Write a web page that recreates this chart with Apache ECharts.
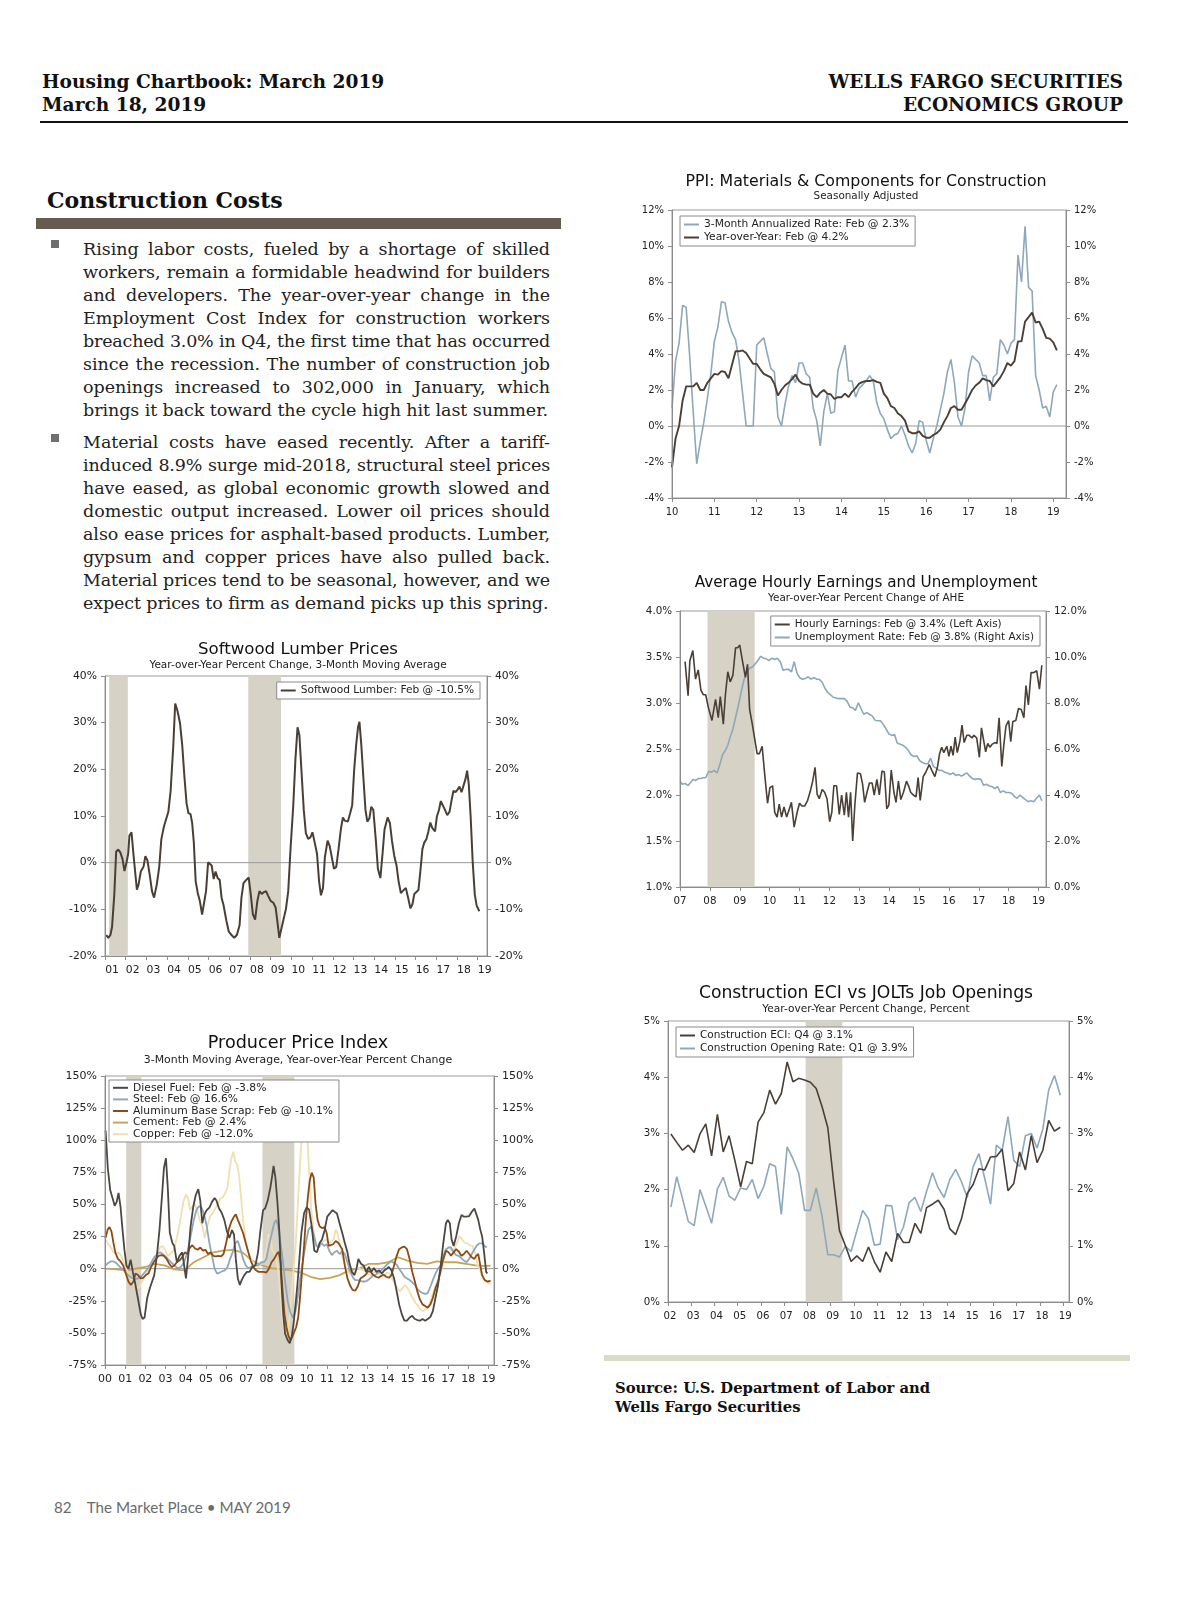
<!DOCTYPE html>
<html><head><meta charset="utf-8">
<script src="https://cdn.jsdelivr.net/npm/echarts/dist/echarts.min.js"></script>
<style>
body{margin:0;background:#fff;}
#page{position:relative;width:1200px;height:1606px;overflow:hidden;background:#fff;}
.abs{position:absolute;}
.hdr{font-family:'DejaVu Serif',serif;font-weight:bold;font-size:18.6px;line-height:23px;color:#111;white-space:nowrap;}
.para{position:absolute;left:83px;width:467px;font-family:'DejaVu Serif',serif;font-size:17.5px;line-height:23px;color:#222;}
.para div{text-align:justify;text-align-last:justify;}
.para div.last{text-align-last:left;}
.bul{position:absolute;left:51px;width:8px;height:8px;background:#6f6f6f;}
.chart{position:absolute;}
</style></head>
<body><div id="page">
<div class="abs hdr" style="left:42px;top:70px;">Housing Chartbook: March 2019<br>March 18, 2019</div>
<div class="abs hdr" style="right:77px;top:70px;text-align:right;">WELLS FARGO SECURITIES<br>ECONOMICS GROUP</div>
<div class="abs" style="left:40px;top:121px;width:1088px;height:2px;background:#111;"></div>
<div class="abs hdr" style="left:47px;top:187px;font-size:22px;line-height:26px;">Construction Costs</div>
<div class="abs" style="left:36px;top:218px;width:525px;height:11px;background:#655b4f;"></div>
<div class="bul" style="top:240px;"></div>
<div class="para" style="top:238px;">
<div>Rising labor costs, fueled by a shortage of skilled</div>
<div>workers, remain a formidable headwind for builders</div>
<div>and developers. The year-over-year change in the</div>
<div>Employment Cost Index for construction workers</div>
<div>breached 3.0% in Q4, the first time that has occurred</div>
<div>since the recession. The number of construction job</div>
<div>openings increased to 302,000 in January, which</div>
<div class="last">brings it back toward the cycle high hit last summer.</div>
</div>
<div class="bul" style="top:434px;"></div>
<div class="para" style="top:431px;">
<div>Material costs have eased recently. After a tariff-</div>
<div>induced 8.9% surge mid-2018, structural steel prices</div>
<div>have eased, as global economic growth slowed and</div>
<div>domestic output increased. Lower oil prices should</div>
<div>also ease prices for asphalt-based products. Lumber,</div>
<div>gypsum and copper prices have also pulled back.</div>
<div>Material prices tend to be seasonal, however, and we</div>
<div class="last">expect prices to firm as demand picks up this spring.</div>
</div>
<div id="cPPIM" class="chart" style="left:600px;top:165px;width:560px;height:360px;"></div>
<div id="cAHE" class="chart" style="left:600px;top:565px;width:560px;height:350px;"></div>
<div id="cECI" class="chart" style="left:600px;top:975px;width:560px;height:360px;"></div>
<div id="cLUM" class="chart" style="left:40px;top:630px;width:500px;height:360px;"></div>
<div id="cPPI" class="chart" style="left:40px;top:1025px;width:510px;height:370px;"></div>
<div class="abs" style="left:604px;top:1355px;width:526px;height:6px;background:#d9dcc6;"></div>
<div class="abs hdr" style="left:615px;top:1378px;font-size:14.8px;line-height:19px;">Source: U.S. Department of Labor and<br>Wells Fargo Securities</div>
<div class="abs" style="left:54px;top:1498px;font-family:Lato,'Open Sans',sans-serif;font-size:15.2px;color:#6b6b6b;white-space:nowrap;">82&nbsp;&nbsp;&nbsp;&nbsp;The Market Place &bull; MAY 2019</div>
</div>
<script>
// ---------------- DATA ----------------
const recessionsStd = [[2001.17, 2001.92], [2007.92, 2009.5]];
const recessionsLumber = [[2001.2, 2002.1], [2007.92, 2009.5]];
const recessionsPPI = [[2001.05, 2001.8], [2007.8, 2009.38]];

// PPI: Materials & Components, monthly from Jan 2010
const ppiMatStart = 2010;
const ppiMat3m = [
 1.0, 3.6, 4.6, 6.7, 6.6, 3.9, 0.8, -2.1, -0.9, 0.2, 1.5, 2.9,
 4.7, 5.5, 6.9, 6.85, 5.8, 5.2, 4.8, 3.6, 1.8, 0.0, 0.0, 0.0,
 4.5, 4.7, 4.9, 4.0, 3.2, 3.0, 0.5, 0.0, 1.2, 2.2, 2.8, 2.4,
 3.5, 3.5, 2.9, 2.7, 1.0, 0.3, -1.1, 0.8, 1.8, 0.7, 0.8, 3.1,
 3.8, 4.5, 2.5, 2.5, 1.6, 2.1, 2.3, 2.5, 2.8, 2.5, 1.3, 0.7,
 0.4, -0.2, -0.7, -0.5, -0.4, 0.0, -0.5, -1.1, -1.5, -1.0, 0.3, 0.2,
 -0.8, -1.5, -0.7, 0.0, 0.9, 1.8, 3.0, 3.7, 2.4, 0.5, 0.0, 1.0,
 3.0, 3.9, 3.7, 3.5, 2.8, 2.8, 1.4, 2.7, 2.9, 4.8, 4.5, 4.0,
 4.6, 4.8, 9.5, 8.0, 11.1, 7.7, 7.5, 2.8, 2.0, 1.0, 1.1, 0.5,
 1.9, 2.3];
const ppiMatYoY = [
 -2.3, -0.7, 0.0, 1.4, 2.2, 2.2, 2.2, 2.4, 2.0, 2.0, 2.4, 2.65,
 2.9, 2.85, 3.05, 3.0, 2.65, 3.4, 4.15, 4.15, 4.2, 4.05, 3.75, 3.45,
 3.45, 3.15, 2.9, 2.8, 2.7, 2.35, 1.7, 2.0, 2.25, 2.4, 2.6, 2.85,
 2.5, 2.35, 2.3, 2.3, 1.8, 1.6, 1.85, 2.0, 1.8, 1.75, 1.5, 1.6,
 1.6, 1.8, 1.6, 1.9, 2.1, 2.35, 2.45, 2.5, 2.5, 2.55, 2.45, 2.4,
 1.8, 1.55, 1.1, 1.0, 0.7, 0.55, 0.3, -0.3, -0.4, -0.4, -0.3, -0.55,
 -0.65, -0.65, -0.5, -0.4, -0.2, 0.2, 0.55, 1.0, 1.1, 0.9, 0.9, 1.25,
 1.6, 2.0, 2.25, 2.4, 2.65, 2.55, 2.5, 2.2, 2.45, 2.7, 3.05, 3.5,
 3.35, 3.6, 4.7, 4.7, 5.8, 6.05, 6.3, 5.75, 5.8, 5.4, 4.9, 4.85,
 4.65, 4.2];

// Softwood lumber [year, %]
const lumberData = [[2001.06,-15.5],[2001.16,-16.1],[2001.26,-15.5],[2001.34,-13.8],[2001.45,-6.8],[2001.54,2.4],[2001.64,2.8],[2001.74,2.2],[2001.85,0.7],[2001.94,-1.8],[2002.04,0.1],[2002.12,1.9],[2002.18,5.8],[2002.28,6.5],[2002.38,1.5],[2002.54,-5.8],[2002.62,-4.7],[2002.73,-1.9],[2002.86,-0.9],[2002.95,1.4],[2003.05,0.5],[2003.16,-2.6],[2003.27,-6.1],[2003.37,-7.5],[2003.50,-4.7],[2003.62,-0.9],[2003.72,5.0],[2003.85,7.8],[2003.94,7.9],[2004.06,10.9],[2004.17,15.4],[2004.30,25.2],[2004.39,34.1],[2004.49,32.7],[2004.62,30.0],[2004.73,25.2],[2004.84,18.2],[2004.94,12.7],[2005.03,10.6],[2005.13,10.4],[2005.21,8.5],[2005.29,4.3],[2005.38,-4.0],[2005.48,-6.5],[2005.58,-8.2],[2005.69,-11.1],[2005.77,-11.0],[2005.88,-6.1],[2005.98,0.1],[2006.06,0.3],[2006.15,-0.6],[2006.25,-3.5],[2006.34,-1.9],[2006.44,-3.3],[2006.54,-3.7],[2006.63,-7.5],[2006.73,-9.2],[2006.86,-12.4],[2006.98,-14.8],[2007.11,-15.5],[2007.24,-16.1],[2007.37,-15.5],[2007.50,-13.4],[2007.59,-7.5],[2007.69,-4.4],[2007.82,-3.7],[2007.94,-3.2],[2008.04,-6.8],[2008.14,-11.0],[2008.25,-12.2],[2008.36,-8.2],[2008.46,-6.1],[2008.57,-6.7],[2008.68,-6.3],[2008.78,-6.1],[2008.87,-7.0],[2009.00,-8.2],[2009.13,-8.6],[2009.24,-9.6],[2009.32,-12.4],[2009.42,-16.1],[2009.51,-15.9],[2009.61,-12.4],[2009.74,-9.9],[2009.85,-6.1],[2009.96,2.9],[2010.09,12.0],[2010.20,22.4],[2010.30,29.0],[2010.39,27.3],[2010.49,19.6],[2010.60,11.3],[2010.70,6.4],[2010.81,5.1],[2010.92,5.4],[2011.02,6.5],[2011.13,4.3],[2011.24,1.9],[2011.34,-4.0],[2011.43,-7.0],[2011.53,-5.4],[2011.62,1.2],[2011.75,4.7],[2011.85,3.6],[2011.94,1.5],[2012.06,-1.3],[2012.17,-0.9],[2012.28,2.9],[2012.39,7.1],[2012.49,9.7],[2012.58,9.0],[2012.73,8.8],[2012.84,10.6],[2012.94,12.3],[2013.03,19.6],[2013.13,25.2],[2013.22,29.0],[2013.29,30.2],[2013.38,25.2],[2013.48,18.2],[2013.58,11.3],[2013.67,8.8],[2013.77,9.5],[2013.86,12.0],[2013.96,11.3],[2014.09,4.3],[2014.18,-1.3],[2014.30,-3.3],[2014.41,2.2],[2014.50,7.1],[2014.65,9.7],[2014.76,8.5],[2014.86,4.7],[2014.97,1.5],[2015.08,-0.6],[2015.18,-4.0],[2015.29,-6.5],[2015.40,-6.0],[2015.53,-5.4],[2015.64,-7.5],[2015.75,-9.8],[2015.85,-8.9],[2015.94,-6.7],[2016.04,-6.3],[2016.14,-5.8],[2016.23,-1.9],[2016.33,2.9],[2016.42,4.3],[2016.52,5.0],[2016.62,6.7],[2016.71,8.6],[2016.81,7.4],[2016.94,6.7],[2017.03,9.9],[2017.13,11.3],[2017.22,13.2],[2017.31,13.0],[2017.42,11.3],[2017.53,10.2],[2017.64,10.9],[2017.74,13.4],[2017.83,15.4],[2017.93,15.1],[2018.02,15.6],[2018.12,16.3],[2018.22,15.1],[2018.31,15.1],[2018.41,17.9],[2018.49,19.7],[2018.57,16.8],[2018.66,9.9],[2018.76,0.1],[2018.86,-6.8],[2018.95,-9.2],[2019.08,-10.4]];

// Average hourly earnings YoY [year, %]
const aheData = [[2007.17,3.45],[2007.27,3.08],[2007.33,3.46],[2007.43,3.57],[2007.52,3.26],[2007.61,3.36],[2007.70,3.14],[2007.78,3.09],[2007.86,3.09],[2007.95,2.95],[2008.07,2.81],[2008.19,3.04],[2008.28,2.84],[2008.35,3.07],[2008.45,2.77],[2008.52,3.09],[2008.60,3.34],[2008.68,3.23],[2008.77,3.30],[2008.86,3.60],[2008.93,3.60],[2009.00,3.63],[2009.10,3.44],[2009.19,3.28],[2009.26,3.42],[2009.33,2.93],[2009.42,2.77],[2009.49,2.63],[2009.58,2.45],[2009.66,2.45],[2009.75,2.53],[2009.83,2.24],[2009.93,1.91],[2010.01,2.08],[2010.10,2.10],[2010.17,1.81],[2010.25,1.76],[2010.32,1.90],[2010.40,1.76],[2010.48,1.87],[2010.57,1.76],[2010.64,1.83],[2010.73,1.92],[2010.82,1.65],[2010.92,1.81],[2011.00,1.91],[2011.08,1.88],[2011.17,1.88],[2011.27,1.94],[2011.36,2.04],[2011.44,2.15],[2011.52,2.30],[2011.59,2.01],[2011.66,1.96],[2011.76,2.06],[2011.84,2.03],[2011.92,1.96],[2012.01,1.71],[2012.08,1.81],[2012.15,2.10],[2012.24,2.10],[2012.33,1.79],[2012.41,2.00],[2012.50,1.78],[2012.57,2.03],[2012.64,1.76],[2012.71,2.03],[2012.78,1.50],[2012.85,1.88],[2012.94,2.24],[2013.04,2.23],[2013.11,2.12],[2013.18,1.92],[2013.26,2.03],[2013.34,2.13],[2013.43,2.13],[2013.50,2.00],[2013.59,2.17],[2013.67,2.00],[2013.76,2.26],[2013.84,2.25],[2013.92,1.85],[2013.99,1.89],[2014.07,2.27],[2014.16,2.03],[2014.23,1.92],[2014.31,2.15],[2014.39,1.95],[2014.48,2.03],[2014.58,2.15],[2014.65,2.10],[2014.72,2.03],[2014.81,2.00],[2014.90,1.98],[2014.97,2.19],[2015.04,1.94],[2015.14,2.20],[2015.23,2.25],[2015.34,2.33],[2015.44,2.26],[2015.53,2.20],[2015.62,2.31],[2015.69,2.45],[2015.76,2.52],[2015.83,2.46],[2015.93,2.53],[2016.00,2.42],[2016.07,2.53],[2016.14,2.43],[2016.21,2.63],[2016.28,2.46],[2016.37,2.59],[2016.44,2.76],[2016.51,2.57],[2016.60,2.65],[2016.67,2.65],[2016.77,2.62],[2016.84,2.65],[2016.93,2.62],[2017.02,2.41],[2017.09,2.73],[2017.16,2.60],[2017.23,2.47],[2017.30,2.56],[2017.37,2.52],[2017.44,2.55],[2017.54,2.57],[2017.61,2.56],[2017.68,2.84],[2017.77,2.31],[2017.84,2.55],[2017.91,2.75],[2018.00,2.81],[2018.07,2.58],[2018.14,2.80],[2018.24,2.81],[2018.33,2.94],[2018.42,2.93],[2018.51,2.84],[2018.58,3.19],[2018.66,2.98],[2018.75,3.33],[2018.84,3.33],[2018.94,3.35],[2019.03,3.15],[2019.11,3.41]];

// Unemployment rate [year, %]
const unempData = [[2007.00,4.6],[2007.08,4.47],[2007.17,4.5],[2007.27,4.42],[2007.35,4.53],[2007.44,4.68],[2007.52,4.63],[2007.61,4.71],[2007.70,4.72],[2007.78,4.75],[2007.86,4.75],[2007.96,5.03],[2008.05,4.99],[2008.14,5.07],[2008.24,4.96],[2008.33,5.31],[2008.42,5.74],[2008.52,5.95],[2008.60,6.16],[2008.68,6.52],[2008.77,6.87],[2008.86,7.37],[2008.96,7.93],[2009.05,8.50],[2009.14,9.0],[2009.24,9.35],[2009.33,9.52],[2009.42,9.56],[2009.52,9.71],[2009.61,9.85],[2009.70,10.03],[2009.80,9.95],[2009.89,9.92],[2009.98,9.85],[2010.08,9.95],[2010.17,9.89],[2010.26,9.95],[2010.36,9.78],[2010.45,9.42],[2010.54,9.46],[2010.64,9.46],[2010.73,9.35],[2010.82,9.80],[2010.92,9.28],[2011.01,9.10],[2011.10,9.03],[2011.20,9.07],[2011.29,9.14],[2011.38,9.04],[2011.48,9.10],[2011.57,9.04],[2011.66,9.03],[2011.76,8.90],[2011.85,8.64],[2011.94,8.47],[2012.03,8.36],[2012.13,8.25],[2012.22,8.22],[2012.31,8.19],[2012.41,8.19],[2012.50,8.19],[2012.59,8.08],[2012.69,7.82],[2012.78,7.79],[2012.87,7.68],[2012.97,8.01],[2013.06,7.76],[2013.15,7.51],[2013.25,7.58],[2013.34,7.51],[2013.43,7.44],[2013.53,7.25],[2013.62,7.23],[2013.71,7.23],[2013.81,7.06],[2013.90,6.87],[2013.99,6.66],[2014.09,6.59],[2014.18,6.63],[2014.27,6.26],[2014.37,6.21],[2014.46,6.16],[2014.55,6.07],[2014.65,5.92],[2014.74,5.74],[2014.83,5.67],[2014.93,5.70],[2015.02,5.50],[2015.11,5.41],[2015.21,5.36],[2015.30,5.36],[2015.39,5.60],[2015.48,5.24],[2015.58,5.17],[2015.67,5.07],[2015.76,5.07],[2015.86,4.99],[2015.95,4.96],[2016.04,4.89],[2016.14,4.96],[2016.23,4.85],[2016.32,4.89],[2016.42,4.82],[2016.51,4.89],[2016.60,4.96],[2016.70,4.82],[2016.79,4.71],[2016.88,4.68],[2016.98,4.71],[2017.07,4.68],[2017.16,4.42],[2017.26,4.47],[2017.35,4.39],[2017.44,4.37],[2017.54,4.28],[2017.63,4.37],[2017.72,4.11],[2017.82,4.18],[2017.91,4.11],[2018.00,4.11],[2018.10,4.08],[2018.19,3.94],[2018.28,3.86],[2018.38,4.0],[2018.47,3.90],[2018.56,3.80],[2018.66,3.71],[2018.75,3.75],[2018.84,3.71],[2018.93,3.86],[2019.03,4.0],[2019.11,3.75]];

// Construction ECI and JOLTS opening rate, quarterly from Q1 2002
const qStart = 2002;
const eciValues = [2.99, 2.84, 2.70, 2.79, 2.66, 2.99, 3.17, 2.60, 3.34, 2.67, 2.96, 2.52, 2.05, 2.50, 2.46, 3.20, 3.37, 3.77, 3.52, 3.71, 4.27, 3.92, 3.98, 3.95, 3.91, 3.80, 3.48, 3.10, 2.14, 1.27, 1.01, 0.72, 0.82, 0.72, 0.98, 0.72, 0.53, 0.89, 0.72, 1.22, 1.06, 1.06, 1.40, 1.22, 1.68, 1.74, 1.81, 1.65, 1.30, 1.20, 1.48, 1.93, 2.09, 2.37, 2.35, 2.58, 2.59, 2.72, 1.98, 2.11, 2.67, 2.35, 2.96, 2.48, 2.70, 3.23, 3.04, 3.11];
const joltsValues = [1.69, 2.23, 1.84, 1.43, 1.36, 2.00, 1.71, 1.40, 2.01, 2.22, 1.89, 1.81, 2.03, 2.00, 2.18, 1.84, 2.06, 2.46, 2.41, 1.56, 2.76, 2.55, 2.29, 1.63, 1.63, 2.03, 1.53, 0.84, 0.84, 0.80, 0.99, 0.90, 1.27, 1.63, 1.48, 1.01, 1.03, 1.72, 1.71, 1.11, 1.33, 1.77, 1.86, 1.61, 1.97, 2.30, 2.03, 1.86, 2.18, 2.36, 2.14, 1.86, 2.41, 2.64, 2.20, 1.74, 2.79, 2.70, 3.30, 2.52, 2.41, 2.96, 3.00, 2.74, 3.08, 3.77, 4.03, 3.68];

// Producer price index components [year, %]
const dieselData = [[2000.03,107.6],[2000.14,78],[2000.26,61],[2000.39,54],[2000.48,49],[2000.58,52],[2000.67,59],[2000.77,48],[2000.87,30],[2000.96,15],[2001.06,2.5],[2001.16,0],[2001.27,7],[2001.38,-2.5],[2001.51,-12.7],[2001.64,-24],[2001.77,-35.4],[2001.86,-39.2],[2001.96,-38],[2002.09,-22.8],[2002.22,-15.2],[2002.31,-13.9],[2002.44,-5],[2002.57,10],[2002.70,30.4],[2002.83,58],[2002.92,78.5],[2003.02,86],[2003.11,63],[2003.21,28],[2003.34,20],[2003.43,17.7],[2003.56,5],[2003.69,10],[2003.82,12.7],[2003.92,2.5],[2004.01,-7.6],[2004.11,7.6],[2004.24,33],[2004.37,48],[2004.49,57],[2004.62,62],[2004.72,53],[2004.82,35.4],[2004.91,41.8],[2005.04,45.6],[2005.17,47.6],[2005.30,52],[2005.43,55],[2005.52,53],[2005.65,46.8],[2005.78,43.5],[2005.91,38],[2006.04,29],[2006.16,24],[2006.29,30],[2006.39,26.6],[2006.48,7.6],[2006.58,-7.6],[2006.68,-12.7],[2006.77,-8.9],[2006.90,-5],[2007.03,-2.5],[2007.16,-2.5],[2007.29,1.3],[2007.45,2.5],[2007.58,12.7],[2007.70,30],[2007.83,45.6],[2007.93,46.8],[2008.06,53],[2008.19,63],[2008.28,72],[2008.35,80],[2008.44,71],[2008.54,52],[2008.64,28],[2008.73,-7.6],[2008.83,-35.4],[2008.92,-50.6],[2009.05,-55.7],[2009.15,-58],[2009.25,-53],[2009.34,-43],[2009.44,-27.8],[2009.53,-12.7],[2009.63,7.6],[2009.73,28],[2009.86,43],[2009.98,47.6],[2010.11,46],[2010.24,33],[2010.37,14],[2010.50,12.7],[2010.63,20],[2010.75,22.8],[2010.88,30],[2011.01,40.5],[2011.14,43],[2011.27,45.6],[2011.36,46.8],[2011.49,43],[2011.62,35.4],[2011.75,28],[2011.88,20],[2012.01,12.7],[2012.10,5],[2012.23,-2.5],[2012.36,-5],[2012.46,0],[2012.55,7.6],[2012.68,3.8],[2012.81,2.5],[2012.94,-2.5],[2013.07,1.3],[2013.19,-2.5],[2013.32,0.5],[2013.45,-2.5],[2013.58,-1.3],[2013.71,-3.8],[2013.84,-1.3],[2013.96,0],[2014.06,1.3],[2014.19,-1.3],[2014.32,-7.6],[2014.45,-17.7],[2014.57,-27.8],[2014.70,-35.4],[2014.83,-40.5],[2014.96,-40.5],[2015.09,-38],[2015.22,-36.7],[2015.35,-39.2],[2015.47,-40],[2015.60,-40.5],[2015.73,-39.2],[2015.86,-40.5],[2015.99,-39.2],[2016.12,-37.5],[2016.24,-33],[2016.37,-22.8],[2016.50,-12.7],[2016.63,2.5],[2016.76,20],[2016.89,35.4],[2016.98,38],[2017.08,35.4],[2017.17,22.8],[2017.27,17.7],[2017.40,25.3],[2017.53,35.4],[2017.66,41.8],[2017.78,40.5],[2017.91,40.5],[2018.04,41],[2018.17,44.3],[2018.30,46.8],[2018.39,45.6],[2018.49,38],[2018.59,30.4],[2018.68,25.3],[2018.78,12.7],[2018.88,-2.5],[2018.94,-3.8]];
const steelData = [[2000.03,2.5],[2000.16,4.5],[2000.29,5.6],[2000.42,5.6],[2000.55,4.5],[2000.67,2.5],[2000.80,0.5],[2000.93,-1.3],[2001.06,-3.8],[2001.19,-5.6],[2001.32,-7.1],[2001.48,-8.1],[2001.64,-7.6],[2001.80,-6],[2001.96,-3],[2002.12,0],[2002.28,4.5],[2002.44,8.9],[2002.60,11.4],[2002.73,12.7],[2002.86,11.4],[2002.99,9.6],[2003.11,7.6],[2003.27,5],[2003.43,2.5],[2003.60,0.5],[2003.76,1.3],[2003.92,5],[2004.08,12.7],[2004.24,25.3],[2004.40,38],[2004.53,45.6],[2004.65,48.6],[2004.78,47.6],[2004.91,42.5],[2005.04,33],[2005.17,20],[2005.30,10],[2005.43,0],[2005.55,-3.8],[2005.68,-3],[2005.81,-2],[2005.94,-1.3],[2006.07,1.3],[2006.20,7.6],[2006.32,12.7],[2006.45,20],[2006.58,21.5],[2006.71,15.2],[2006.84,7.6],[2006.97,2.5],[2007.10,0.5],[2007.22,1.3],[2007.35,2.5],[2007.48,2.5],[2007.61,3],[2007.74,5],[2007.87,5],[2007.99,7.6],[2008.12,17.7],[2008.25,26.6],[2008.38,35.4],[2008.48,38],[2008.57,33.4],[2008.67,22.8],[2008.80,7.6],[2008.92,-10],[2009.05,-25.3],[2009.18,-34],[2009.31,-38],[2009.44,-33],[2009.57,-20],[2009.69,-5],[2009.82,7.6],[2009.95,20],[2010.08,30.4],[2010.21,33],[2010.34,26.6],[2010.47,17.7],[2010.59,16.5],[2010.72,20],[2010.85,17.7],[2010.98,19],[2011.11,14],[2011.24,10.6],[2011.36,12.7],[2011.49,14],[2011.62,11.4],[2011.75,13.2],[2011.88,11.4],[2012.01,5],[2012.13,-1.3],[2012.26,-6.3],[2012.39,-8.9],[2012.52,-8.9],[2012.65,-9.6],[2012.78,-10],[2012.90,-10],[2013.03,-8.9],[2013.16,-7.1],[2013.29,-5],[2013.42,-4.6],[2013.55,-3],[2013.68,-1.3],[2013.80,0.5],[2013.93,2.5],[2014.06,4.5],[2014.19,5.6],[2014.32,4.5],[2014.45,3],[2014.57,0],[2014.70,-3],[2014.83,-6.3],[2014.96,-7.6],[2015.09,-8.9],[2015.22,-10.6],[2015.35,-12.7],[2015.47,-15.7],[2015.60,-17.7],[2015.73,-19],[2015.86,-19.7],[2015.99,-19],[2016.12,-13.9],[2016.24,-8.9],[2016.37,-3.8],[2016.50,0],[2016.63,2.5],[2016.76,10],[2016.89,15.2],[2017.02,16.5],[2017.14,16.5],[2017.27,12.7],[2017.40,10.6],[2017.53,10],[2017.66,8],[2017.78,6.3],[2017.91,5],[2018.04,7.6],[2018.17,11.4],[2018.30,15.2],[2018.43,18.2],[2018.55,19.7],[2018.68,19.7],[2018.81,17.7],[2018.91,16.5]];
const aluminumData = [[2000.03,24],[2000.13,30.4],[2000.22,32.4],[2000.32,29],[2000.42,20],[2000.51,12.7],[2000.64,7.6],[2000.77,5.6],[2000.90,2.5],[2001.03,-3.8],[2001.16,-10],[2001.28,-12.7],[2001.41,-10],[2001.51,-3.8],[2001.64,-5],[2001.77,-7.6],[2001.89,-7.1],[2002.02,-5],[2002.15,-3.8],[2002.28,1.3],[2002.41,5],[2002.54,8],[2002.66,10],[2002.79,10.6],[2002.92,10],[2003.05,7.6],[2003.18,3.8],[2003.31,1.3],[2003.43,2.5],[2003.56,5],[2003.69,6.3],[2003.82,8.9],[2003.95,12.7],[2004.08,11.4],[2004.21,16.5],[2004.33,18.2],[2004.46,15.7],[2004.59,14.7],[2004.72,16.5],[2004.85,14],[2004.98,14.7],[2005.10,11.4],[2005.23,12.7],[2005.36,10],[2005.49,9.6],[2005.62,10],[2005.75,9.6],[2005.87,11.4],[2006.00,20],[2006.13,30.4],[2006.26,36.7],[2006.39,40.5],[2006.48,42.3],[2006.58,38],[2006.71,33],[2006.84,27.8],[2006.97,20],[2007.10,12.7],[2007.22,6.3],[2007.35,1.3],[2007.48,-1.3],[2007.61,-2.5],[2007.74,-2.5],[2007.87,-2.5],[2007.99,-3],[2008.12,0],[2008.25,5],[2008.38,7.6],[2008.51,11.4],[2008.60,13.2],[2008.70,5],[2008.80,-17.7],[2008.89,-35.4],[2008.99,-45.6],[2009.08,-52],[2009.18,-55.7],[2009.28,-53],[2009.37,-49.4],[2009.47,-45.6],[2009.57,-38],[2009.66,-22.8],[2009.76,-2.5],[2009.86,17.7],[2009.95,38],[2010.05,55.7],[2010.14,68.4],[2010.24,74.7],[2010.34,70.9],[2010.43,50.6],[2010.53,38],[2010.63,33],[2010.75,31.6],[2010.88,32.4],[2010.98,27.8],[2011.08,17.7],[2011.17,16.5],[2011.30,19],[2011.43,21.5],[2011.56,20],[2011.65,19],[2011.75,15.2],[2011.88,2.5],[2012.01,-7.6],[2012.13,-12.7],[2012.26,-16.5],[2012.39,-17.2],[2012.52,-13.9],[2012.65,-7.6],[2012.78,-6.3],[2012.90,-5],[2013.03,-2],[2013.16,-2.5],[2013.29,-5],[2013.42,-6.3],[2013.55,-7.1],[2013.68,-5.6],[2013.80,-4.6],[2013.93,-6.3],[2014.06,-7.1],[2014.19,-5],[2014.32,2.5],[2014.45,10],[2014.57,15.2],[2014.70,16.5],[2014.83,17.2],[2014.96,15.2],[2015.09,7.6],[2015.22,-2.5],[2015.35,-10],[2015.47,-17.7],[2015.60,-24],[2015.73,-27.8],[2015.86,-29],[2015.99,-30.4],[2016.12,-27.8],[2016.24,-22.8],[2016.37,-15.2],[2016.50,-10],[2016.63,-1.3],[2016.76,7.6],[2016.89,14],[2017.02,12.7],[2017.14,10],[2017.27,12.7],[2017.40,15.2],[2017.53,13.2],[2017.66,10],[2017.78,11.4],[2017.91,14],[2018.04,11.4],[2018.17,8.9],[2018.30,7.6],[2018.39,10],[2018.49,11.4],[2018.59,2.5],[2018.68,-5],[2018.81,-8.9],[2018.94,-10],[2019.10,-9.6]];
const cementData = [[2000.03,0],[2000.55,-0.5],[2001.06,-1.3],[2001.51,0],[2001.99,1.3],[2002.47,3.8],[2002.95,2.5],[2003.43,-0.5],[2003.92,-1.3],[2004.40,5],[2004.88,8.9],[2005.36,12.7],[2005.84,14],[2006.32,14.7],[2006.81,12.7],[2007.29,6.3],[2007.77,2.5],[2008.25,0.5],[2008.73,-0.5],[2009.21,-1.3],[2009.69,-3],[2010.18,-6.3],[2010.66,-8.1],[2011.14,-7.1],[2011.62,-5],[2012.10,-1.3],[2012.58,0],[2013.07,3.8],[2013.55,3.8],[2014.03,5],[2014.51,8.9],[2014.99,6.3],[2015.47,4.5],[2015.96,3.8],[2016.44,5.6],[2016.92,5],[2017.40,5],[2017.88,3.8],[2018.36,2.5],[2018.84,2],[2019.10,2.4]];
const copperData = [[2000.03,22.8],[2000.16,19],[2000.29,16.5],[2000.42,12.7],[2000.55,11.4],[2000.67,12.7],[2000.80,10],[2000.93,5],[2001.06,0],[2001.19,-5],[2001.32,-8.9],[2001.44,-12.7],[2001.57,-15.2],[2001.70,-13.9],[2001.83,-10],[2001.96,-6.3],[2002.09,-2.5],[2002.22,0],[2002.34,3.8],[2002.47,7.6],[2002.60,12.7],[2002.73,16.5],[2002.86,17.7],[2002.99,14],[2003.11,10],[2003.24,11.4],[2003.37,14],[2003.50,20],[2003.63,29],[2003.76,40.5],[2003.88,52],[2004.01,57.7],[2004.11,55],[2004.21,45.6],[2004.30,47.6],[2004.43,50.6],[2004.56,46],[2004.69,38],[2004.82,33],[2004.94,24],[2005.07,33],[2005.20,40.5],[2005.33,43],[2005.46,46.8],[2005.59,50.6],[2005.71,54.4],[2005.84,55.7],[2005.97,59.5],[2006.07,63.3],[2006.16,76],[2006.26,86],[2006.36,91],[2006.45,83.5],[2006.55,81],[2006.65,70.9],[2006.74,55.7],[2006.84,38],[2006.97,22.8],[2007.10,12.7],[2007.22,7.6],[2007.35,5],[2007.48,2.5],[2007.61,1.3],[2007.74,3.8],[2007.87,6.3],[2007.99,15.2],[2008.09,26.6],[2008.19,25.3],[2008.28,14],[2008.38,12.7],[2008.48,7.6],[2008.57,0],[2008.67,-17.7],[2008.76,-33],[2008.86,-48],[2008.96,-53],[2009.05,-48],[2009.15,-38],[2009.25,-17.7],[2009.34,0],[2009.44,17.7],[2009.53,43],[2009.63,73.4],[2009.73,98.7],[2009.82,113],[2009.92,118],[2010.02,104],[2010.11,76],[2010.21,48],[2010.30,33],[2010.43,20],[2010.56,17.7],[2010.69,19],[2010.82,21.5],[2010.95,22.8],[2011.08,19.7],[2011.20,20.8],[2011.33,23.3],[2011.43,30.4],[2011.52,27.8],[2011.65,17.7],[2011.78,7.6],[2011.91,1.3],[2012.04,-2.5],[2012.17,-3.8],[2012.30,-3],[2012.42,-1.3],[2012.55,0.5],[2012.68,-0.5],[2012.81,-1.3],[2012.94,-2.5],[2013.07,-4.6],[2013.19,-5],[2013.32,-3],[2013.45,-2],[2013.58,-3.8],[2013.71,-6.3],[2013.84,-5],[2013.96,-3],[2014.09,-3.8],[2014.22,-7.6],[2014.35,-11.4],[2014.48,-15.2],[2014.61,-17.7],[2014.73,-15.2],[2014.86,-12.7],[2014.99,-15.2],[2015.12,-19],[2015.25,-22.8],[2015.38,-26.6],[2015.51,-29],[2015.63,-31.6],[2015.76,-33],[2015.89,-31.6],[2016.02,-29],[2016.15,-24],[2016.28,-17.7],[2016.40,-12.7],[2016.53,-7.6],[2016.66,-2.5],[2016.79,7.6],[2016.92,15.2],[2017.05,16.5],[2017.17,14],[2017.30,15.2],[2017.43,20],[2017.56,25.3],[2017.69,22.8],[2017.82,20],[2017.95,19.7],[2018.07,18.2],[2018.20,17.7],[2018.33,12.7],[2018.46,2.5],[2018.55,0],[2018.65,-5],[2018.75,-7.6],[2018.88,-10],[2019.00,-11.4],[2019.10,-12]];

// ---------------- RENDER ----------------
const FONT = "'DejaVu Sans', Verdana, sans-serif";
const DARK = '#4a3f36', BLUE = '#8ea7bb';
const AX = '#8c8c8c';
function yearLabel(v) { const r = Math.round(v); if (Math.abs(v - r) > 1e-6) return ''; return String(r % 100).padStart(2, '0'); }
function monthly(start, arr) { return arr.map((v, i) => [start + i / 12, v]); }
function quarterly(start, arr) { return arr.map((v, i) => [start + i * 0.25 + 0.125, v]); }
const pct0 = v => Math.round(v) + '%';
const pct1 = v => v.toFixed(1) + '%';

function mkY(a, pos, fs) {
  return {type: 'value', position: pos, min: a.min, max: a.max, interval: a.interval, z: 3,
    axisLine: {show: true, onZero: false, lineStyle: {color: AX}},
    axisTick: {show: true, length: 4, lineStyle: {color: AX}},
    axisLabel: {fontFamily: FONT, fontSize: fs, color: '#222', margin: 8, formatter: a.fmt},
    splitLine: {show: false}};
}

function build(id, c) {
  const chart = echarts.init(document.getElementById(id));
  const series = [{
    type: 'line', name: '_base', data: [[c.xMin, c.base], [c.xMax, c.base]], showSymbol: false, silent: true, z: 1,
    lineStyle: {color: '#9a9a9a', width: 1, opacity: c.zero ? 1 : 0}, tooltip: {show: false},
    markArea: c.rec ? {silent: true, itemStyle: {color: '#d6d2c5'}, data: c.rec.map(r => [{xAxis: r[0]}, {xAxis: r[1]}])} : undefined
  }];
  c.series.forEach(s => series.push({type: 'line', name: s.name, data: s.data, yAxisIndex: s.y || 0,
    showSymbol: false, z: s.z || 2, lineStyle: {color: s.color, width: s.w || c.lw || 1.6}, itemStyle: {color: s.color}}));
  const legend = Object.assign({
    data: c.legendOrder || c.series.map(s => s.name), orient: 'vertical', icon: 'rect', itemWidth: 15, itemHeight: 2,
    itemGap: 0, padding: [2, 6, 2, 4], borderColor: '#8a8a8a', borderWidth: 1, backgroundColor: '#fff', selectedMode: false,
    textStyle: {fontFamily: FONT, fontSize: c.lfs, color: '#222', lineHeight: c.llh || 13}
  }, c.legendPos);
  const shift = c.labelShift || 0;
  chart.setOption({
    animation: false,
    title: [
      {text: c.title, left: c.tx, top: c.tt, textAlign: 'center', padding: 0,
        textStyle: {fontFamily: FONT, fontSize: c.ts, fontWeight: 'normal', color: '#111'}},
      {text: c.sub, left: c.tx, top: c.st, textAlign: 'center', padding: 0,
        textStyle: {fontFamily: FONT, fontSize: c.ss, fontWeight: 'normal', color: '#222'}}
    ],
    legend: legend,
    grid: Object.assign({show: true, borderColor: '#9a9a9a', borderWidth: 1, backgroundColor: 'transparent', containLabel: false, outerBoundsMode: 'none'}, c.grid),
    xAxis: {type: 'value', min: c.xMin, max: c.xMax, interval: 1, z: 3,
      axisLine: {show: true, onZero: false, lineStyle: {color: AX}},
      axisTick: {show: true, length: 4, lineStyle: {color: AX}},
      axisLabel: {fontFamily: FONT, fontSize: c.fs, color: '#222', margin: 9, showMaxLabel: false,
        formatter: v => { const t = yearLabel(v); return t ? '{a|' + t + '}' : ''; },
        rich: {a: {fontFamily: FONT, fontSize: c.fs, color: '#222', padding: [0, 0, 0, shift * 2]}}},
      splitLine: {show: false}},
    yAxis: [mkY(c.yL, 'left', c.fs), mkY(c.yR || c.yL, 'right', c.fs)],
    series: series
  });
}

build('cPPIM', {
  title: 'PPI: Materials & Components for Construction', sub: 'Seasonally Adjusted', tx: 266, tt: 8.6, st: 26.2,
  ts: 15.8, ss: 10.4, fs: 10, lfs: 10.7,
  grid: {left: 72, top: 45, width: 394, height: 288},
  xMin: 2010, xMax: 2019.3, base: 0, zero: true,
  yL: {min: -4, max: 12, interval: 2, fmt: pct0},
  legendPos: {left: 80, top: 51},
  series: [
    {name: '3-Month Annualized Rate: Feb @ 2.3%', color: BLUE, data: monthly(ppiMatStart, ppiMat3m)},
    {name: 'Year-over-Year: Feb @ 4.2%', color: DARK, data: monthly(ppiMatStart, ppiMatYoY), w: 1.9}
  ]
});

build('cAHE', {
  title: 'Average Hourly Earnings and Unemployment', sub: 'Year-over-Year Percent Change of AHE', tx: 266, tt: 10.9, st: 28.2,
  ts: 15.2, ss: 10.4, fs: 10.3, lfs: 10.4,
  grid: {left: 80, top: 46, width: 366, height: 276},
  xMin: 2007, xMax: 2019.25, base: 1.0, zero: false, rec: recessionsStd,
  yL: {min: 1.0, max: 4.0, interval: 0.5, fmt: pct1},
  yR: {min: 0, max: 12, interval: 2, fmt: pct1},
  legendPos: {right: 120, top: 51},
  series: [
    {name: 'Hourly Earnings: Feb @ 3.4% (Left Axis)', color: DARK, data: aheData, z: 3},
    {name: 'Unemployment Rate: Feb @ 3.8% (Right Axis)', color: BLUE, data: unempData, y: 1}
  ]
});

build('cECI', {
  title: 'Construction ECI vs JOLTs Job Openings', sub: 'Year-over-Year Percent Change, Percent', tx: 266, tt: 9.9, st: 29.1,
  ts: 17.2, ss: 10.6, fs: 10.2, lfs: 10.5, labelShift: 2,
  grid: {left: 68, top: 46, width: 401, height: 281},
  xMin: 2002, xMax: 2019.25, base: 0, zero: false, rec: recessionsStd,
  yL: {min: 0, max: 5, interval: 1, fmt: pct0},
  legendPos: {left: 76, top: 52},
  series: [
    {name: 'Construction ECI: Q4 @ 3.1%', color: DARK, data: quarterly(qStart, eciValues), z: 3},
    {name: 'Construction Opening Rate: Q1 @ 3.9%', color: BLUE, data: quarterly(qStart, joltsValues)}
  ]
});

build('cLUM', {
  title: 'Softwood Lumber Prices', sub: 'Year-over-Year Percent Change, 3-Month Moving Average', tx: 258, tt: 11.2, st: 30.2,
  ts: 16.6, ss: 10.5, fs: 10.8, lfs: 10.6, labelShift: 7,
  grid: {left: 65, top: 46, width: 382, height: 280},
  xMin: 2001, xMax: 2019.45, base: 0, zero: true, rec: recessionsLumber,
  yL: {min: -20, max: 40, interval: 10, fmt: pct0},
  legendPos: {right: 60, top: 52},
  series: [{name: 'Softwood Lumber: Feb @ -10.5%', color: DARK, data: lumberData, w: 2}]
});

build('cPPI', {
  title: 'Producer Price Index', sub: '3-Month Moving Average, Year-over-Year Percent Change', tx: 258, tt: 9.7, st: 30,
  ts: 17.6, ss: 10.9, fs: 11, lfs: 10.75, llh: 11.6, lw: 1.8,
  grid: {left: 65, top: 51, width: 389, height: 289},
  xMin: 2000, xMax: 2019.27, base: 0, zero: true, rec: recessionsPPI,
  yL: {min: -75, max: 150, interval: 25, fmt: pct0},
  legendPos: {left: 69, top: 55},
  legendOrder: ['Diesel Fuel: Feb @ -3.8%', 'Steel: Feb @ 16.6%', 'Aluminum Base Scrap: Feb @ -10.1%', 'Cement: Feb @ 2.4%', 'Copper: Feb @ -12.0%'],
  series: [
    {name: 'Cement: Feb @ 2.4%', color: '#c8a457', data: cementData},
    {name: 'Copper: Feb @ -12.0%', color: '#f1dfb0', data: copperData},
    {name: 'Steel: Feb @ 16.6%', color: BLUE, data: steelData},
    {name: 'Aluminum Base Scrap: Feb @ -10.1%', color: '#8c4b12', data: aluminumData},
    {name: 'Diesel Fuel: Feb @ -3.8%', color: '#4d4742', data: dieselData}
  ]
});

// keep each justified line on a single line
document.querySelectorAll('.para div').forEach(d => {
  const s = document.createElement('span'); s.textContent = d.textContent; s.style.whiteSpace = 'nowrap';
  d.textContent = ''; d.appendChild(s);
  const w = s.getBoundingClientRect().width;
  if (w > 465) d.style.letterSpacing = ((465 - w) / s.textContent.length) + 'px';
  d.textContent = s.textContent;
});
</script>
</body></html>
